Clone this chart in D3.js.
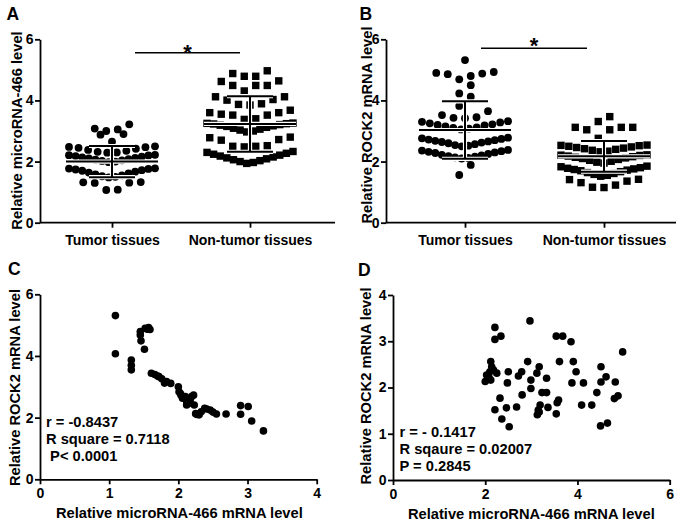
<!DOCTYPE html>
<html><head><meta charset="utf-8">
<script src="https://cdn.jsdelivr.net/npm/d3@7"></script>
<style>
body{margin:0;background:#fff}
text{font-family:"Liberation Sans",Arial,sans-serif;font-weight:bold;fill:#000}
</style>
</head><body><svg id="c" width="677" height="524"></svg>
<script>
// ---------------- DATA ----------------
const groups = ["Tumor tissues", "Non-tumor tissues"];
const yTicksTop = [0, 2, 4, 6];

// Panel A: relative microRNA-466 level
const mirTumor = [1.07,1.08,1.30,1.31,1.32,1.33,
  1.48,1.50,1.52,1.55,1.58,1.61,1.64,1.67,1.70,1.72,1.74,1.76,1.77,1.78,
  1.98,2.00,2.02,2.04,2.06,2.08,2.10,2.12,2.14,2.16,2.18,2.20,2.21,2.22,
  2.29,2.30,2.32,2.35,2.38,2.42,2.45,2.47,2.48,2.50,
  2.65,2.88,2.90,3.00,3.05,3.08,3.22];
const mirNonTumor = [1.94,1.97,2.00,2.03,2.06,2.09,2.12,2.15,2.18,2.21,2.24,2.27,2.30,2.33,
  2.48,2.50,2.50,2.52,2.70,2.72,2.78,2.80,
  2.97,3.00,3.03,3.06,3.09,3.12,3.15,3.17,3.19,3.21,3.23,3.24,3.25,3.26,
  3.38,3.40,3.52,3.52,3.55,3.60,3.60,3.68,
  3.85,3.87,3.89,4.01,4.03,4.12,4.12,
  4.31,4.49,4.49,4.49,4.62,4.64,
  4.79,4.79,4.88,4.97];
const mirMean = [2.00, 3.23];
const mirSD = [0.51, 0.91];

// Panel B: relative ROCK2 mRNA level
const rockTumor = [1.56,1.89,
  2.10,2.12,2.14,2.16,2.18,2.20,2.22,2.25,2.28,2.30,2.32,2.34,2.36,2.38,
  2.50,2.52,2.54,2.57,2.60,2.62,2.64,2.66,2.68,2.70,2.72,2.74,2.76,2.78,
  3.05,3.08,3.10,3.12,3.15,3.18,3.20,3.22,3.25,3.28,3.30,3.32,
  3.42,3.43,3.45,3.52,3.65,3.82,4.12,4.23,4.50,
  4.69,4.80,4.86,4.88,4.90,4.93,5.32];
const rockNonTumor = [1.15,1.16,1.23,1.31,1.36,1.41,1.42,
  1.52,1.55,1.58,1.61,1.64,1.67,1.70,1.72,1.74,1.76,1.78,1.80,1.83,1.85,
  1.95,1.98,2.01,2.04,2.07,2.10,2.12,2.14,2.16,2.18,2.20,2.21,2.22,
  2.32,2.34,2.37,2.40,2.42,2.44,2.46,2.48,2.50,2.52,2.53,2.54,
  2.76,3.04,3.04,3.12,3.12,3.12,3.31,3.47];
const rockMean = [3.03, 2.17];
const rockSD = [0.94, 0.50];

// Panel C: microRNA-466 (x) vs ROCK2 (y), tumor tissues
const corrCx = [1.09,1.09,1.45,1.52,1.57,1.59,1.45,1.46,1.51,1.32,1.32,1.32,1.55,
  1.61,1.66,1.72,1.76,1.80,1.83,1.89,1.70,
  2.00,2.01,2.04,2.06,2.10,2.12,2.15,2.19,2.22,2.12,2.23,2.03,2.17,
  2.25,2.30,2.33,2.41,2.46,2.50,2.55,2.69,2.27,2.38,
  2.90,3.01,2.90,3.06,3.23];
const corrCy = [5.31,4.07,4.79,4.90,4.92,4.86,4.68,4.49,4.22,3.87,3.70,3.55,4.87,
  3.44,3.40,3.33,3.26,3.12,3.17,3.11,3.35,
  3.00,2.84,2.73,2.63,2.68,2.52,2.46,2.68,2.73,2.41,2.41,2.78,2.55,
  2.13,2.09,2.19,2.28,2.25,2.18,2.12,2.12,2.10,2.30,
  2.39,2.36,2.11,1.89,1.57];
const statsC = ["r = -0.8437", "R square = 0.7118", " P< 0.0001"];

// Panel D: microRNA-466 (x) vs ROCK2 (y), non-tumor tissues
const corrDx = [2.21,2.21,2.34,2.97,3.54,3.68,3.86,4.98,
  2.12,2.14,2.10,2.18,2.25,2.03,2.00,2.12,2.08,
  2.50,2.48,2.92,2.79,2.72,
  3.17,3.12,2.99,2.99,3.33,
  3.61,3.91,3.97,3.88,4.13,
  4.51,4.62,4.51,4.82,
  2.32,2.80,3.23,3.33,3.59,3.56,4.42,4.88,4.80,4.09,4.31,
  2.21,2.46,2.68,3.19,3.15,3.36,3.13,3.17,3.54,2.36,2.52,4.50,4.65];
const corrDy = [3.30,3.04,3.11,3.44,3.11,3.11,2.99,2.77,
  2.56,2.45,2.34,2.38,2.31,2.27,2.13,2.16,2.22,
  2.34,2.10,2.56,2.34,2.25,
  2.45,2.31,2.16,1.98,2.20,
  2.56,2.56,2.34,2.10,2.10,
  2.45,2.23,2.12,2.12,
  1.77,1.84,1.89,1.89,1.73,1.67,1.89,1.82,1.76,1.62,1.62,
  1.52,1.56,1.58,1.62,1.51,1.57,1.41,1.47,1.43,1.32,1.15,1.17,1.23];
const statsD = ["r = - 0.1417", "R sqaure = 0.02007", "P = 0.2845"];

// ---------------- DRAWING ----------------
const svg = d3.select("#c");
const LBL = 14.7, TICK = 14;
const fmt = d3.format("d");

function swarm(values, span, maxStep, maxWidth) {
  const s = values.slice().sort((a, b) => a - b);
  const rows = [];
  let cur = null;
  s.forEach(v => {
    if (!cur || v - cur.start > span + 1e-9) { cur = {start: v, vals: []}; rows.push(cur); }
    cur.vals.push(v);
  });
  const out = [];
  rows.forEach(r => {
    const n = r.vals.length;
    const st = n > 1 ? Math.min(maxStep, maxWidth / (n - 1)) : 0;
    const slots = d3.range(n).map(i => (i - (n - 1) / 2) * st);
    slots.sort((a, b) => (Math.abs(a) - Math.abs(b)) || (a - b));
    r.vals.forEach((v, i) => out.push({v, dx: slots[i]}));
  });
  return out;
}

function styleAxis(g) {
  g.select(".domain").attr("stroke", "#000").attr("stroke-width", 1.8);
  g.selectAll(".tick line").attr("stroke", "#000").attr("stroke-width", 1.8);
  g.selectAll("text").attr("font-size", TICK).attr("font-family", null).attr("fill", "#000");
}

function yLabel(x, y, txt) {
  svg.append("text").attr("transform", `translate(${x},${y}) rotate(-90)`)
    .attr("text-anchor", "middle").attr("dy", "0.36em").attr("font-size", LBL).text(txt);
}

function letter(x, y, t) {
  svg.append("text").attr("x", x).attr("y", y).attr("font-size", 17.5).text(t);
}

function dotPanel(p) {
  const y = d3.scaleLinear().domain([0, 6]).range([222.7, 39.3]);
  const x = d3.scalePoint().domain(groups).range(p.cats);
  const g = svg.append("g");
  const ya = g.append("g").attr("transform", `translate(${p.x0},0)`)
    .call(d3.axisLeft(y).tickValues(yTicksTop).tickFormat(fmt).tickSize(5).tickSizeOuter(0).tickPadding(1.5));
  styleAxis(ya);
  const xa = g.append("g").attr("transform", `translate(0,${y(0)})`)
    .call(d3.axisBottom(x).tickSize(5).tickSizeOuter(0));
  styleAxis(xa);
  xa.select(".domain").attr("d", `M${p.x0},0H${p.xEnd}`);
  xa.selectAll("text").attr("y", 22.3).attr("dy", null);
  const tPts = swarm(p.tumor, p.spans[0], 11.5, 86);
  const nPts = swarm(p.non, p.spans[1], 11.5, 86);
  g.append("g").selectAll("circle").data(tPts).join("circle")
    .attr("cx", d => x(groups[0]) + d.dx).attr("cy", d => y(d.v)).attr("r", 3.9).attr("fill", "#000");
  g.append("g").selectAll("rect").data(nPts).join("rect")
    .attr("x", d => x(groups[1]) + d.dx - 3.7).attr("y", d => y(d.v) - 3.7)
    .attr("width", 7.4).attr("height", 7.4).attr("fill", "#000");
  groups.forEach((gr, i) => {
    const cx = x(gr), m = p.mean[i], s = p.sd[i];
    const segs = [
      [cx - 46, y(m), cx + 46, y(m)],
      [cx, y(m + s), cx, y(m - s)],
      [cx - 23, y(m + s), cx + 23, y(m + s)],
      [cx - 23, y(m - s), cx + 23, y(m - s)]
    ];
    [["#fff", 4.2], ["#000", 2]].forEach(([col, w]) => {
      segs.forEach(sg => g.append("line").attr("x1", sg[0]).attr("y1", sg[1]).attr("x2", sg[2]).attr("y2", sg[3])
        .attr("stroke", col).attr("stroke-width", w));
    });
  });
  g.append("line").attr("x1", p.sig[0]).attr("x2", p.sig[1]).attr("y1", p.sig[2]).attr("y2", p.sig[2])
    .attr("stroke", "#000").attr("stroke-width", 1.6);
  g.append("text").attr("x", (p.sig[0] + p.sig[1]) / 2).attr("y", p.sig[2] + p.starDy)
    .attr("text-anchor", "middle").attr("font-size", 22).text("*");
}

dotPanel({x0: 40, xEnd: 335, cats: [112, 250], tumor: mirTumor, non: mirNonTumor,
  mean: mirMean, sd: mirSD, spans: [0.3, 0.4], sig: [135, 240, 52.7], starDy: 7.5});
dotPanel({x0: 386, xEnd: 676, cats: [465, 604], tumor: rockTumor, non: rockNonTumor,
  mean: rockMean, sd: rockSD, spans: [0.36, 0.36], sig: [481, 587, 48.3], starDy: 5});

yLabel(17, 130.5, "Relative microRNA-466 level");
yLabel(366.7, 125, "Relative ROCK2 mRNA level");
letter(6.5, 19.5, "A");
letter(359.5, 19.5, "B");

function scatterPanel(p) {
  const x = d3.scaleLinear().domain(p.xd).range([p.x0, p.x1]);
  const y = d3.scaleLinear().domain(p.yd).range([p.y0, p.y1]);
  const g = svg.append("g");
  const ya = g.append("g").attr("transform", `translate(${p.x0},0)`)
    .call(d3.axisLeft(y).tickValues(p.yt).tickFormat(fmt).tickSize(5).tickSizeOuter(0).tickPadding(1.5));
  styleAxis(ya);
  const xa = g.append("g").attr("transform", `translate(0,${p.y0})`)
    .call(d3.axisBottom(x).tickValues(p.xt).tickFormat(fmt).tickSize(5).tickSizeOuter(0));
  styleAxis(xa);
  xa.selectAll("text").attr("y", 18.7).attr("dy", null);
  g.append("g").selectAll("circle").data(p.xs.map((v, i) => [v, p.ys[i]])).join("circle")
    .attr("cx", d => x(d[0])).attr("cy", d => y(d[1])).attr("r", 3.8).attr("fill", "#000");
  p.stats.forEach((t, i) => {
    g.append("text").attr("x", p.sx).attr("y", p.sy[i]).attr("font-size", LBL)
      .style("white-space", "pre").text(t);
  });
  svg.append("text").attr("x", (p.x0 + p.x1) / 2 + p.tOff).attr("y", p.ty).attr("text-anchor", "middle")
    .attr("font-size", LBL).text("Relative microRNA-466 mRNA level");
}

scatterPanel({x0: 40, x1: 316.7, y0: 479.3, y1: 294.3, xd: [0, 4], yd: [0, 6],
  xt: [0, 1, 2, 3, 4], yt: [0, 2, 4, 6], xs: corrCx, ys: corrCy, stats: statsC,
  sx: 46, sy: [427, 443.5, 460.5], ty: 518, tOff: 1});
scatterPanel({x0: 393, x1: 669.7, y0: 480, y1: 295, xd: [0, 6], yd: [0, 4],
  xt: [0, 2, 4, 6], yt: [0, 1, 2, 3, 4], xs: corrDx, ys: corrDy, stats: statsD,
  sx: 399.5, sy: [437, 453.5, 470.5], ty: 519, tOff: 0});

yLabel(15, 387.5, "Relative ROCK2 mRNA level");
yLabel(365.5, 386, "Relative ROCK2 mRNA level");
letter(8, 275, "C");
letter(358, 276, "D");
</script></body></html>
